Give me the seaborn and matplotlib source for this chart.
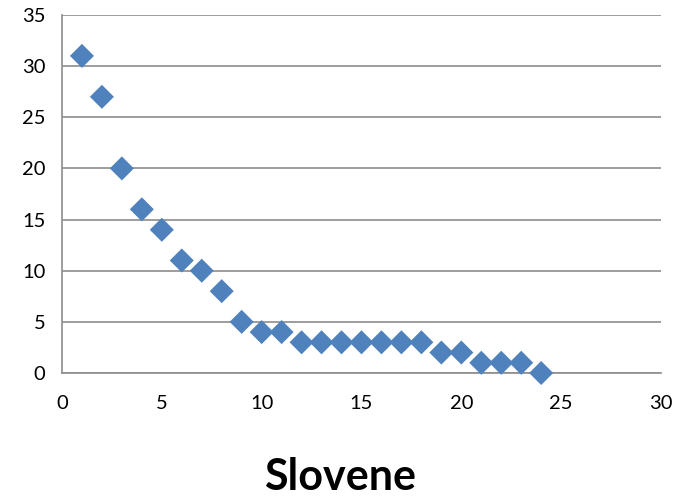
import matplotlib
matplotlib.use("Agg")
import matplotlib.pyplot as plt
import seaborn as sns
import pandas as pd

# Frequency by rank
ranks = list(range(1, 25))
counts = [31, 27, 20, 16, 14, 11, 10, 8, 5, 4, 4, 3, 3, 3, 3, 3, 3, 3, 2, 2, 1, 1, 1, 0]
x_ticks = [0, 5, 10, 15, 20, 25, 30]
y_ticks = [0, 5, 10, 15, 20, 25, 30, 35]
title = "Slovene"

sns.set_style("white")
plt.rcParams["font.family"] = ["Lato", "DejaVu Sans"]

df = pd.DataFrame({"rank": ranks, "count": counts})

fig = plt.figure(figsize=(6.81, 4.99), dpi=100)
ax = fig.add_axes([0.091, 0.2525, 0.8796, 0.7175])

grid_color = "#8c8c8c"
sns.scatterplot(data=df, x="rank", y="count", marker="D", s=150,
                color="#4f81bd", edgecolor="none", ax=ax, zorder=3, clip_on=False)

ax.set_xlim(0, 30)
ax.set_ylim(0, 35)
ax.set_xticks(x_ticks)
ax.set_yticks(y_ticks)
ax.yaxis.grid(True, color=grid_color, linewidth=1.2)
ax.xaxis.grid(False)
for side in ["top", "right"]:
    ax.spines[side].set_visible(False)
for side in ["left", "bottom"]:
    ax.spines[side].set_color(grid_color)
    ax.spines[side].set_linewidth(1.2)
ax.tick_params(axis="both", direction="out", length=7, width=1.2, color=grid_color,
               labelsize=14.5, labelcolor="black", pad=5)
ax.tick_params(axis="x", pad=9)
ax.set_xlabel("")
ax.set_ylabel("")

fig.text(0.5, 0.004, title, ha="center", va="bottom", fontsize=31,
         fontweight="bold", color="black")

fig.savefig("out.png", dpi=100)
